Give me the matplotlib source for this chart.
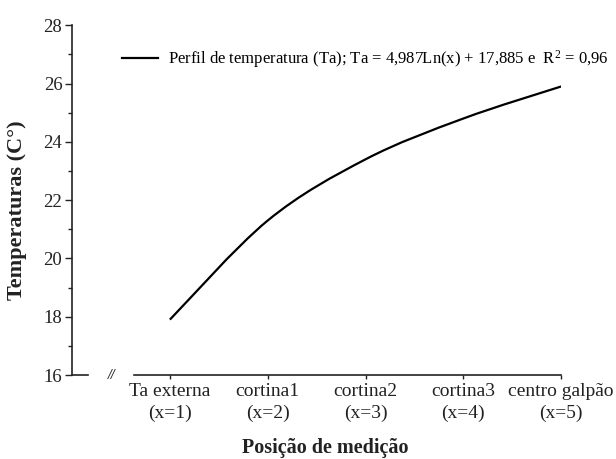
import numpy as np
import matplotlib
matplotlib.use("Agg")
import matplotlib.pyplot as plt
import matplotlib.ticker as mticker
from matplotlib.path import Path
from matplotlib.patches import PathPatch
from matplotlib.lines import Line2D

# ── Data ──────────────────────────────────────────────────────────────────────
positions = [1, 2, 3, 4, 5]
temps     = [17.9, 21.3, 23.4, 24.8, 25.9]
tick_lbls = ["Ta externa\n(x=1)", "cortina1\n(x=2)", "cortina2\n(x=3)",
             "cortina3\n(x=4)", "centro galpão\n(x=5)"]
legend_txt = "Perfil de temperatura (Ta); Ta = 4,987Ln(x) + 17,885 e  R$^{2}$ = 0,96"

plt.rcParams["font.family"] = ["Liberation Serif", "DejaVu Serif"]
plt.rcParams["mathtext.fontset"] = "custom"
plt.rcParams["mathtext.rm"] = "Liberation Serif"
plt.rcParams["mathtext.it"] = "Liberation Serif"

FG = "#222222"

fig = plt.figure(figsize=(6.16, 4.59), dpi=100)
ax = fig.add_axes([0.117, 0.183, 0.794, 0.762])

# smooth line through the points (Catmull-Rom drawn as cubic Bezier segments)
pts = np.column_stack([positions, temps]).astype(float)
verts = [tuple(pts[0])]
codes = [Path.MOVETO]
n = len(pts)
for i in range(n - 1):
    p0 = pts[max(i - 1, 0)]
    p1 = pts[i]
    p2 = pts[i + 1]
    p3 = pts[min(i + 2, n - 1)]
    c1 = p1 + (p2 - p0) / 6.0
    c2 = p2 - (p3 - p1) / 6.0
    verts += [tuple(c1), tuple(c2), tuple(p2)]
    codes += [Path.CURVE4] * 3
ax.add_patch(PathPatch(Path(verts, codes), facecolor="none",
                       edgecolor="black", linewidth=1.6, zorder=3))

ax.set_xlim(0, 5)
ax.set_ylim(16, 28)

# Axes styling
for s in ("top", "right", "bottom"):
    ax.spines[s].set_visible(False)
ax.spines["left"].set_color(FG)
ax.spines["left"].set_linewidth(1.2)

# broken x axis
ax.add_line(Line2D([0, 0.16], [16, 16], color=FG, lw=1.2, clip_on=False))
ax.add_line(Line2D([0.63, 5], [16, 16], color=FG, lw=1.2, clip_on=False))
ax.text(0.41, 16, "//", fontsize=10, fontweight="bold", style="italic",
        ha="center", va="center", color=FG)

ax.yaxis.set_major_locator(mticker.MultipleLocator(2))
ax.yaxis.set_minor_locator(mticker.MultipleLocator(1))
ax.tick_params(axis="y", which="major", direction="out", length=5,
               width=1, colors=FG, labelsize=13.5, pad=2)
ax.tick_params(axis="y", which="minor", direction="out", length=3,
               width=1, colors=FG)
ax.set_xticks(positions)
ax.set_xticklabels(tick_lbls, linespacing=1.3)
ax.tick_params(axis="x", direction="out", length=3, width=1,
               colors=FG, labelsize=14, pad=3)

ax.set_ylabel("Temperaturas (C°)", fontsize=16, fontweight="bold",
              color=FG, va="center")
ax.yaxis.set_label_coords(-0.112, 0.471)
ax.set_xlabel("Posição de medição", fontsize=14.5, fontweight="bold",
              color=FG, va="center")
ax.xaxis.set_label_coords(0.517, -0.208)

# legend
h = Line2D([], [], color="black", lw=1.6)
ax.legend([h], [legend_txt], loc="center left", bbox_to_anchor=(0.102, 0.903),
          frameon=False, fontsize=12, handlelength=2.15, handletextpad=0.6,
          borderaxespad=0, borderpad=0)

fig.savefig("out.png", dpi=100)
